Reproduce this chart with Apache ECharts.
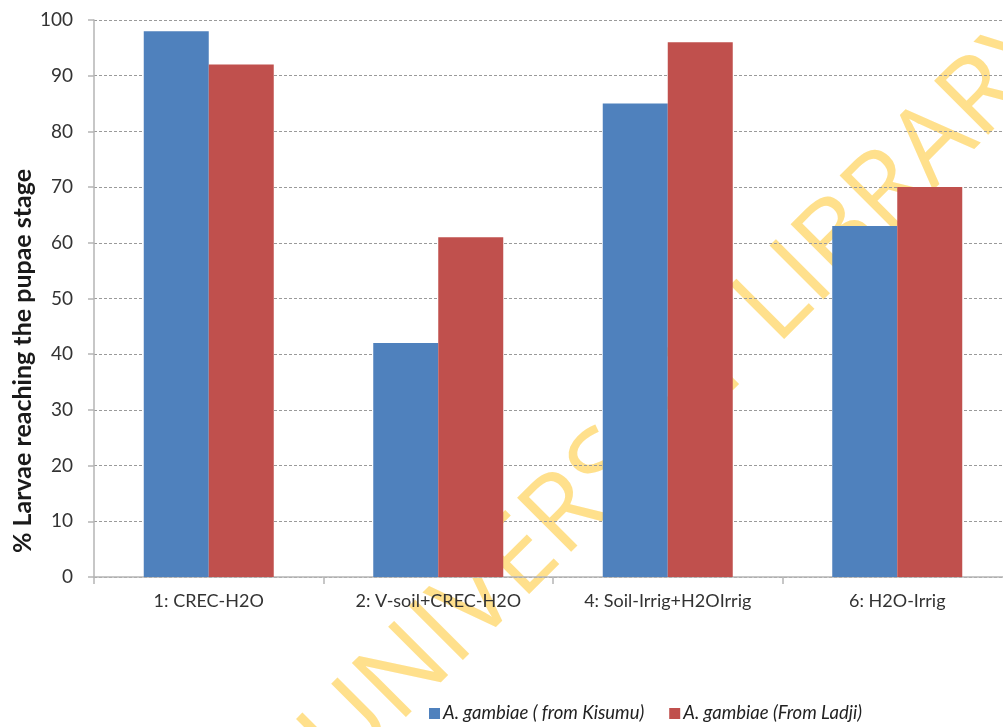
<!DOCTYPE html>
<html>
<head>
<meta charset="utf-8">
<script src="https://cdn.jsdelivr.net/npm/echarts@6/dist/echarts.min.js"></script>
<style>
  html, body { margin: 0; padding: 0; background: #fff; overflow: hidden; }
  /* the chart is a little wider than the window so the last category runs off the edge */
  #chart { width: 1013px; height: 727px; }
</style>
</head>
<body>
<div id="chart"></div>
<script>
// Treatments (x categories)
const categories = ['1: CREC-H2O', '2: V-soil+CREC-H2O', '4: Soil-Irrig+H2OIrrig', '6: H2O-Irrig'];
// % larvae reaching the pupae stage, per strain
const kisumu = [98, 42, 85, 63];
const ladji = [92, 61, 96, 70];
const seriesNames = ['A. gambiae ( from Kisumu)', 'A. gambiae (From Ladji)'];
const yAxisTitle = '% Larvae reaching the pupae stage';
const watermark = 'UNIVERSITY LIBRARY';

const font = 'Lato, "Open Sans", sans-serif';
const chart = echarts.init(document.getElementById('chart'), null, { renderer: 'canvas' });

chart.setOption({
  backgroundColor: '#ffffff',
  animation: false,
  color: ['#4F81BD', '#C0504D'],
  grid: { left: 94, right: 1, top: 20, bottom: 150, containLabel: false },
  legend: {
    left: 429,
    top: 704,
    padding: 0,
    itemWidth: 11,
    itemHeight: 11,
    itemGap: 25,
    icon: 'rect',
    textStyle: { fontFamily: font, fontStyle: 'italic', fontSize: 18.5, color: '#222', padding: [0, 0, 0, -2] },
    data: seriesNames
  },
  graphic: [
    {
      type: 'text',
      z: -10,
      x: 685,
      y: 395,
      rotation: Math.PI / 4,
      style: {
        text: watermark,
        fontFamily: '"Open Sans", sans-serif',
        fontWeight: 'normal',
        fontSize: 107,
        fill: '#FFE08C',
        align: 'center',
        verticalAlign: 'middle'
      }
    },
    {
      type: 'text',
      x: 23,
      y: 361,
      rotation: Math.PI / 2,
      style: {
        text: yAxisTitle,
        fontFamily: font,
        fontWeight: 'bold',
        fontSize: 25,
        fill: '#1a1a1a',
        align: 'center',
        verticalAlign: 'middle'
      }
    }
  ],
  xAxis: {
    type: 'category',
    data: categories,
    axisLine: { lineStyle: { color: '#b5b5b5', width: 1.5 } },
    axisTick: { show: true, length: 7, lineStyle: { color: '#b5b5b5', width: 1.5 } },
    axisLabel: { fontFamily: font, fontSize: 18, color: '#333', margin: 15 }
  },
  yAxis: {
    type: 'value',
    min: 0,
    max: 100,
    interval: 10,
    axisLine: { show: true, lineStyle: { color: '#b5b5b5', width: 1.5 } },
    axisTick: { show: true, length: 6, lineStyle: { color: '#b5b5b5', width: 1.5 } },
    axisLabel: { fontFamily: font, fontSize: 19, color: '#333', margin: 21 },
    splitLine: { show: true, lineStyle: { color: '#9a9a9a', type: [3, 2], width: 1 } }
  },
  series: [
    { name: seriesNames[0], type: 'bar', data: kisumu, barWidth: 65, barGap: '0%', z: 3 },
    { name: seriesNames[1], type: 'bar', data: ladji, barWidth: 65, barGap: '0%', z: 3 }
  ]
});
</script>
</body>
</html>
